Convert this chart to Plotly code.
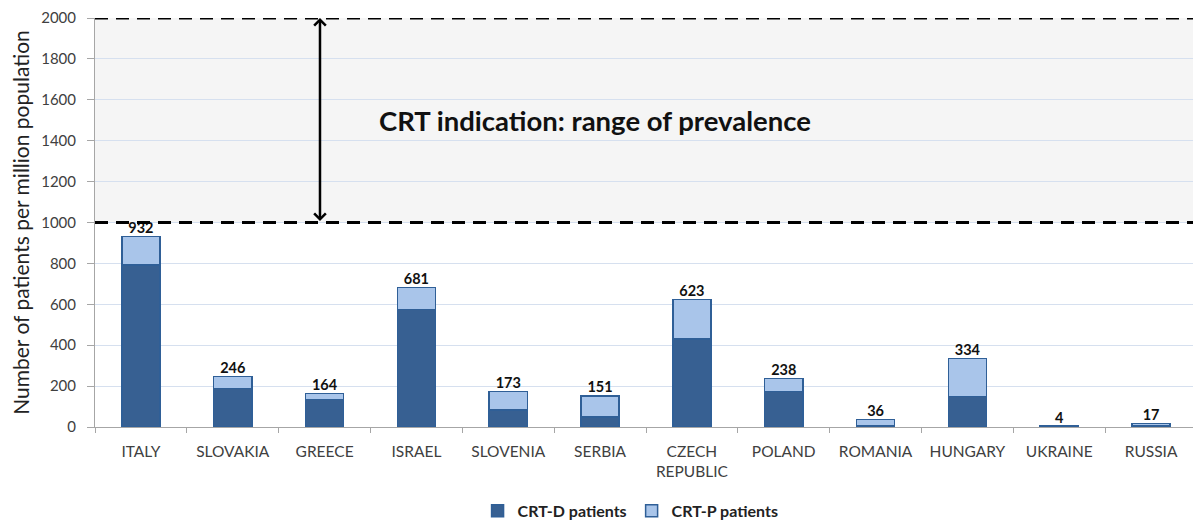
import plotly.graph_objects as go

countries = ["ITALY", "SLOVAKIA", "GREECE", "ISRAEL", "SLOVENIA", "SERBIA",
             "CZECH<br>REPUBLIC", "POLAND", "ROMANIA", "HUNGARY", "UKRAINE", "RUSSIA"]
totals = [932, 246, 164, 681, 173, 151, 623, 238, 36, 334, 4, 17]
crt_d = [792, 189, 135, 575, 83, 49, 430, 174, 5, 148, 4, 4]
crt_p = [t - d for t, d in zip(totals, crt_d)]

y_ticks = [0, 200, 400, 600, 800, 1000, 1200, 1400, 1600, 1800, 2000]
range_low, range_high = 1000, 2000
band_label = "CRT indication: range of prevalence"

FONT = "Lato"
DARK = "#376092"
LIGHT = "#a9c5ea"
EDGE = "#2f5f97"

fig = go.Figure()
fig.add_trace(go.Bar(x=countries, y=crt_d, name="<b>CRT-D patients</b>",
                     marker=dict(color=DARK, line=dict(color=EDGE, width=1.5)),
                     hoverinfo="skip"))
fig.add_trace(go.Bar(x=countries, y=crt_p, name="<b>CRT-P patients</b>",
                     marker=dict(color=LIGHT, line=dict(color=EDGE, width=1.5)),
                     hoverinfo="skip"))
fig.add_trace(go.Scatter(x=countries, y=totals, mode="text",
                         text=[f"<b>{v}</b>" for v in totals],
                         textposition="top center",
                         textfont=dict(family=FONT, size=14.5, color="#111111"),
                         showlegend=False, hoverinfo="skip"))

# shaded band and dashed limits
fig.add_shape(type="rect", xref="paper", x0=0, x1=1, yref="y", y0=range_low, y1=range_high,
              fillcolor="#f5f5f5", line=dict(width=0), layer="below")
for yv in (range_low, range_high):
    fig.add_shape(type="line", xref="paper", x0=0, x1=1, yref="y", y0=yv, y1=yv,
                  line=dict(color="black", width=3, dash="13px,8px"))

fig.add_annotation(x=1.95, y=range_high, ax=1.95, ay=range_low, xref="x", yref="y",
                   axref="x", ayref="y", text="", showarrow=True,
                   arrowhead=4, startarrowhead=4, arrowside="end+start",
                   arrowwidth=2.5, arrowsize=0.9, startarrowsize=0.9, arrowcolor="black")
fig.add_annotation(x=4.95, y=1500, xref="x", yref="y", text=f"<b>{band_label}</b>",
                   showarrow=False, font=dict(family=FONT, size=27.5, color="#111111"))

# the page body has an 8px margin, so the figure is sized to fill the rest of the window
fig.update_layout(
    width=1193, height=513,
    margin=dict(l=87, r=4, t=10, b=94, autoexpand=False),
    barmode="stack", bargap=0.585,
    plot_bgcolor="white", paper_bgcolor="white",
    font=dict(family=FONT, color="#404040"),
    legend=dict(orientation="h", x=0.486, xanchor="center", y=-0.205, yanchor="middle",
                itemwidth=30,
                font=dict(family=FONT, size=16, color="#222222"), traceorder="normal"),
    showlegend=True,
)
fig.update_xaxes(range=[-0.5, len(countries) - 0.5],
                 showline=True, linecolor="#a6a6a6", linewidth=1,
                 ticks="outside", tickson="boundaries", ticklen=5, tickcolor="#a6a6a6",
                 ticklabelstandoff=10,
                 tickfont=dict(family=FONT, size=15.5, color="#404040"),
                 showgrid=False, fixedrange=True, automargin=False)
fig.update_yaxes(range=[0, 2000], tickvals=y_ticks, showgrid=True, gridcolor="#d6e0ef",
                 gridwidth=1, showline=True, linecolor="#a6a6a6", linewidth=1,
                 ticks="outside", ticklen=7, tickcolor="#a6a6a6",
                 ticklabelstandoff=8,
                 tickfont=dict(family=FONT, size=15, color="#404040"),
                 title=dict(text="Number of patients per million population",
                            font=dict(family=FONT, size=21, color="#222222"), standoff=6),
                 zeroline=False, fixedrange=True, automargin=False)

fig.write_html("out.html")
